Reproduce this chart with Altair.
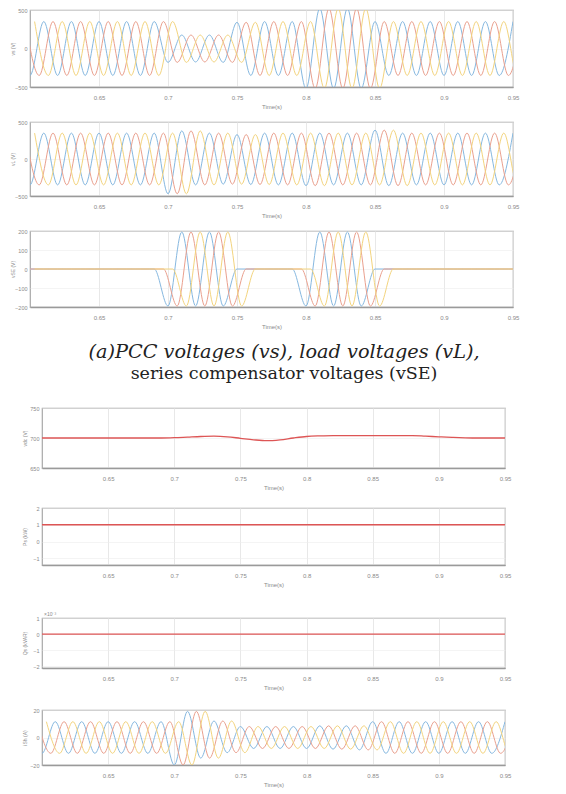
import altair as alt
import pandas as pd

# ---------------- data ----------------
X_TICKS = [0.65, 0.7, 0.75, 0.8, 0.85, 0.9, 0.95]
T_DOMAIN = [0.6, 0.95]
PHASES = ["a", "b", "c"]
PHASE_COLORS = ["#86b8e0", "#eaa08e", "#f3d47e"]
PHASE_SHIFT = [0.0, 0.00667, 0.01333]      # 120 deg at 50 Hz
HALF_CYCLE_TIMES = [0.59, 0.60, 0.61, 0.62, 0.63, 0.64, 0.65, 0.66, 0.67, 0.68, 0.69,
                    0.70, 0.71, 0.72, 0.73, 0.74, 0.75, 0.76, 0.77, 0.78, 0.79,
                    0.80, 0.81, 0.82, 0.83, 0.84, 0.85, 0.86, 0.87, 0.88, 0.89,
                    0.90, 0.91, 0.92, 0.93, 0.94, 0.95]

# half-cycle peak amplitudes (one per entry of HALF_CYCLE_TIMES)
VS_PEAKS = [350, 350, 350, 350, 350, 350, 350, 350, 350, 350, 350,
            180, 175, 175, 175, 180, 340, 350, 350, 350, 350,
            520, 520, 520, 520, 520, 350, 350, 350, 350, 350,
            350, 350, 350, 350, 350, 350]
VL_PEAKS = [350, 350, 350, 350, 350, 350, 350, 350, 350, 350, 350,
            470, 380, 350, 350, 340, 330, 345, 350, 350, 350,
            360, 350, 350, 350, 350, 390, 360, 350, 350, 350,
            350, 350, 350, 350, 350, 350]
VSE_PEAKS = [0, 0, 0, 0, 0, 0, 0, 0, 0, 0, 0,
             195, 195, 195, 195, 195, 0, 0, 0, 0, 0,
             195, 195, 195, 195, 195, 0, 0, 0, 0, 0,
             0, 0, 0, 0, 0, 0]
ISH_PEAKS = [11.5, 11.5, 11.5, 11.5, 11.5, 11.5, 11.5, 11.5, 11.5, 11.5, 11.5,
             20, 19, 15, 12, 11, 8, 8, 8, 8, 8,
             8, 8.5, 8.5, 8.5, 9, 11.5, 11.5, 11.5, 11.5, 11.5,
             11.5, 11.5, 11.5, 11.5, 11.5, 11.5]

VDC_T = [0.60, 0.61, 0.62, 0.63, 0.64, 0.65, 0.66, 0.67, 0.68, 0.69,
         0.70, 0.71, 0.72, 0.73, 0.74, 0.75, 0.76, 0.77, 0.78, 0.79,
         0.80, 0.81, 0.82, 0.83, 0.84, 0.85, 0.86, 0.87, 0.88, 0.89,
         0.90, 0.91, 0.92, 0.93, 0.94, 0.95]
VDC_V = [700, 700, 700, 700, 700, 700, 700, 700, 700, 700,
         700.5, 701.5, 702.5, 703, 702, 699.5, 697, 695.5, 697, 700,
         702.5, 703.5, 704, 704, 704, 704, 704, 704, 704, 703,
         702, 701, 700.3, 700, 700, 700]
P_T = [0.6, 0.95]
P_V = [1, 1]
Q_T = [0.6, 0.95]
Q_V = [0, 0]

CAPTION_1 = "(a)PCC voltages (vs), load voltages (vL),"
CAPTION_2 = "series compensator voltages (vSE)"

LABEL_COLOR = "#8a8a8a"
FONT = "Liberation Sans"


def wave_rows(peaks):
    rows = []
    for ph, shift in zip(PHASES, PHASE_SHIFT):
        for k, (t, a) in enumerate(zip(HALF_CYCLE_TIMES, peaks)):
            rows.append({"t": t + shift, "v": a if k % 2 == 0 else -a, "phase": ph})
    return pd.DataFrame(rows)


def x_axis():
    return alt.Axis(values=X_TICKS, format=".2~f", title="Time(s)", labelFontSize=6,
                    titleFontSize=6, labelColor=LABEL_COLOR, titleColor=LABEL_COLOR,
                    labelFont=FONT, titleFont=FONT, titleFontWeight="normal", ticks=False,
                    labelPadding=7, titlePadding=3, labelFlush=False, grid=True,
                    gridColor="#e2e2e2", gridWidth=0.8, domainColor="#9a9a9a",
                    domainWidth=1.5)


def y_axis(title, ticks, extent):
    return alt.Axis(values=ticks, title=title, labelFontSize=5.5, titleFontSize=5,
                    labelColor=LABEL_COLOR, titleColor=LABEL_COLOR, labelFont=FONT,
                    titleFont=FONT, titleFontWeight="normal", ticks=False,
                    labelPadding=3, titlePadding=3, minExtent=extent, maxExtent=extent,
                    grid=True, gridColor="#ececec", gridWidth=0.6, domain=False,
                    labelFlush=False)


VIEW = alt.ViewBackground(stroke="#a8a8a8", strokeWidth=1.2)


def wave_panel(peaks, domain, ticks, title, width, height, extent):
    return alt.Chart(wave_rows(peaks)).mark_line(
        strokeWidth=1, interpolate="monotone", clip=True
    ).encode(
        x=alt.X("t:Q", scale=alt.Scale(domain=T_DOMAIN, nice=False, zero=False), axis=x_axis()),
        y=alt.Y("v:Q", scale=alt.Scale(domain=domain, nice=False, zero=False),
                axis=y_axis(title, ticks, extent)),
        color=alt.Color("phase:N", scale=alt.Scale(domain=PHASES, range=PHASE_COLORS), legend=None),
    ).properties(width=width, height=height, view=VIEW)


def flat_panel(ts, vs, domain, ticks, title, width, height, extent):
    df = pd.DataFrame({"t": ts, "v": vs})
    return alt.Chart(df).mark_line(
        strokeWidth=1.3, color="#dd5555", interpolate="monotone", clip=True
    ).encode(
        x=alt.X("t:Q", scale=alt.Scale(domain=T_DOMAIN, nice=False, zero=False), axis=x_axis()),
        y=alt.Y("v:Q", scale=alt.Scale(domain=domain, nice=False, zero=False),
                axis=y_axis(title, ticks, extent)),
    ).properties(width=width, height=height, view=VIEW)


def spacer(w, h):
    return alt.Chart(pd.DataFrame({"s": [0]})).mark_text(text=" ", fontSize=1).encode(
        x=alt.value(0), y=alt.value(0)
    ).properties(width=w, height=h, view=alt.ViewBackground(strokeWidth=0))


TOP_W, TOP_EXT = 483, 12
BOT_W, BOT_EXT = 463, 12

p1 = wave_panel(VS_PEAKS, [-500, 500], [-500, 0, 500], "vs (V)", TOP_W, 77, TOP_EXT)
p2 = wave_panel(VL_PEAKS, [-500, 500], [-500, 0, 500], "vL (V)", TOP_W, 74, TOP_EXT)
p3 = wave_panel(VSE_PEAKS, [-200, 200], [-200, -100, 0, 100, 200], "vSE (V)", TOP_W, 76, TOP_EXT)

cap_df = pd.DataFrame({"s": [0]})
caption = alt.layer(
    alt.Chart(cap_df).mark_text(text=CAPTION_1, font="DejaVu Serif", fontStyle="italic",
                                fontSize=19.3, color="#222222", align="center", baseline="middle"
                                ).encode(x=alt.value(254), y=alt.value(22)),
    alt.Chart(cap_df).mark_text(text=CAPTION_2, font="DejaVu Serif",
                                fontSize=17.5, color="#222222", align="center", baseline="middle"
                                ).encode(x=alt.value(254), y=alt.value(44)),
).properties(width=515, height=75, view=alt.ViewBackground(strokeWidth=0))

p4 = flat_panel(VDC_T, VDC_V, [650, 750], [650, 700, 750], "vdc (V)", BOT_W, 60, BOT_EXT)
p5 = flat_panel(P_T, P_V, [-1.4, 2], [-1, 0, 1, 2], "Ps (kW)", BOT_W, 57, BOT_EXT)
p6_line = flat_panel(Q_T, Q_V, [-2.1, 1], [-2, -1, 0, 1], "Qs (kVAR)", BOT_W, 50, BOT_EXT)
p6_exp = alt.Chart(pd.DataFrame({"s": [0]})).mark_text(
    text="×10⁻³", fontSize=5, color=LABEL_COLOR, align="left", baseline="bottom", font=FONT
).encode(x=alt.value(2), y=alt.value(-1))
p6 = alt.layer(p6_line, p6_exp).properties(width=BOT_W, height=50, view=VIEW)
p7 = wave_panel(ISH_PEAKS, [-20, 20], [-20, 0, 20], "iSh (A)", BOT_W, 55, BOT_EXT)

bottom_stack = alt.vconcat(
    p4, spacer(10, 40), p5, spacer(10, 53), p6, spacer(10, 42), p7,
    spacing=0, bounds="flush"
)
bottom_row = alt.hconcat(spacer(12, 10), bottom_stack, spacing=0, bounds="flush")

chart = alt.concat(
    p1, spacer(10, 8), p2, spacer(10, 8), p3, caption, bottom_row,
    columns=1, spacing=0, align="none"
).properties(
    padding={"left": 9, "top": 7, "right": 0, "bottom": 0},
    background="white",
).configure_view(strokeWidth=0)

chart.save("out.html", embed_options={"renderer": "svg", "actions": False})
